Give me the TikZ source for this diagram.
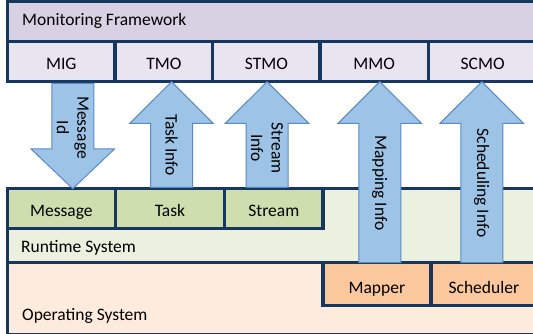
\documentclass[tikz,border=0pt]{standalone}
\usepackage{fontspec}
\setmainfont{Carlito}
\usetikzlibrary{calc,fit}

\definecolor{frame}{RGB}{23,55,94}
\definecolor{mfhead}{RGB}{216,209,227}
\definecolor{mfcell}{RGB}{232,228,240}
\definecolor{rtfill}{RGB}{235,241,222}
\definecolor{rtcell}{RGB}{207,222,174}
\definecolor{osfill}{RGB}{253,235,221}
\definecolor{oscell}{RGB}{251,199,156}
\definecolor{arrowfill}{RGB}{157,195,230}
\definecolor{arrowline}{RGB}{88,138,200}

\newcommand\lblfont{\fontsize{17.5}{20.5}\selectfont}
\newcommand\arrShaft{21}
\newcommand\arrHead{41.7}

% vertical block arrow: tail, tip, signed head length (positive = pointing up)
\newcommand\blockarrow[3]{%
  \draw[blk] ($(#1)+(-\arrShaft,0)$) -- ($(#2)+(-\arrShaft,#3)$)
    -- ($(#2)+(-\arrHead,#3)$) -- (#2) -- ($(#2)+(\arrHead,#3)$)
    -- ($(#2)+(\arrShaft,#3)$) -- ($(#1)+(\arrShaft,0)$) -- cycle;}

\begin{document}
\begin{tikzpicture}[x=1pt,y=-1pt,
  box/.style={draw=frame, line width=3.5pt, inner sep=0pt, outer sep=0pt},
  lbl/.style={font=\lblfont, text=black, inner sep=0pt},
  blk/.style={draw=arrowline, line width=1pt, fill=arrowfill, line join=miter}]
\useasboundingbox (0,0) rectangle (533,334);
\clip (0,0) rectangle (533,334);

% monitoring framework layer
\node[box, fill=mfhead, fit={(7.5,1.7) (537,81.3)}] (mf) {};
\node[box, fill=mfcell, fit={(7.5,41.3) (115,81.3)}] (mig) {};
\node[box, fill=mfcell, fit={(115,41.3) (212.7,81.3)}] (tmo) {};
\node[box, fill=mfcell, fit={(212.7,41.3) (320,81.3)}] (stmo) {};
\node[box, fill=mfcell, fit={(320,41.3) (428.3,81.3)}] (mmo) {};
\node[box, fill=mfcell, fit={(428.3,41.3) (537,81.3)}] (scmo) {};

% runtime system layer
\node[box, fill=rtfill, fit={(7.5,188.7) (537,262.7)}] (rts) {};
\node[box, fill=rtcell, fit={(7.5,188.7) (115.3,228.7)}] (msg) {};
\node[box, fill=rtcell, fit={(115.3,188.7) (224.7,228.7)}] (task) {};
\node[box, fill=rtcell, fit={(224.7,188.7) (323,228.7)}] (stream) {};

% operating system layer
\node[box, fill=osfill, fit={(7.5,262.7) (537,334.6)}] (os) {};
\node[box, fill=oscell, fit={(323,262.7) (430.8,305.3)}] (mapper) {};
\node[box, fill=oscell, fit={(430.8,262.7) (537,305.3)}] (sched) {};

% labels
\node[lbl, anchor=base west] (mft) at (22,26) {Monitoring Framework};
\node[lbl, anchor=base] at ($(mig.center)+(0,8)$) {MIG};
\node[lbl, anchor=base] at ($(tmo.center)+(0,8)$) {TMO};
\node[lbl, anchor=base] at ($(stmo.center)+(0,8)$) {STMO};
\node[lbl, anchor=base] at ($(mmo.center)+(0,8)$) {MMO};
\node[lbl, anchor=base] at ($(scmo.center)+(0,8)$) {SCMO};
\node[lbl, anchor=base] at ($(msg.center)+(0,7.6)$) {Message};
\node[lbl, anchor=base] at ($(task.center)+(0,7.6)$) {Task};
\node[lbl, anchor=base] at ($(stream.center)+(0,7.6)$) {Stream};
\node[lbl, anchor=base west] (rtt) at (21,252.3) {Runtime System};
\node[lbl, anchor=base] at ($(mapper.center)+(0,9.3)$) {Mapper};
\node[lbl, anchor=base] at ($(sched.center)+(0,9.3)$) {Scheduler};
\node[lbl, anchor=base west] (ost) at (22,320.7) {Operating System};

% arrow end points
\coordinate (a1t) at ($(mig.south)+(11.5,2)$);
\coordinate (a1h) at (a1t |- msg.north);
\coordinate (a2h) at ($(tmo.south)+(7.7,0.4)$);
\coordinate (a2t) at ($(a2h |- task.north)+(0,-1.4)$);
\coordinate (a3h) at ($(stmo.south)+(0.7,0.4)$);
\coordinate (a3t) at ($(a3h |- stream.north)+(0,-1.4)$);
\coordinate (a4h) at ($(mmo.south)+(5.6,0.4)$);
\coordinate (a4t) at (a4h |- rts.south);
\coordinate (a5h) at ($(scmo.south west)+(53.5,0.4)$);
\coordinate (a5t) at (a5h |- rts.south);

% information flow arrows
\blockarrow{a1t}{a1h}{-39.7}
\blockarrow{a2t}{a2h}{41.6}
\blockarrow{a3t}{a3h}{41.6}
\blockarrow{a4t}{a4h}{41.6}
\blockarrow{a5t}{a5h}{41.6}

\node[lbl, rotate=-90, align=center] at ($(a1t)!0.42!(a1h)$) {Message\\Id};
\node[lbl, rotate=-90] at ($(a2t)!0.40!(a2h)$) {Task Info};
\node[lbl, rotate=-90, align=center] at ($(a3t)!0.37!(a3h)$) {Stream\\Info};
\node[lbl, rotate=-90] at ($(a4t)!0.44!(a4h)$) {Mapping Info};
\node[lbl, rotate=-90] at ($(a5t)!0.44!(a5h)$) {Scheduling Info};
\end{tikzpicture}
\end{document}
